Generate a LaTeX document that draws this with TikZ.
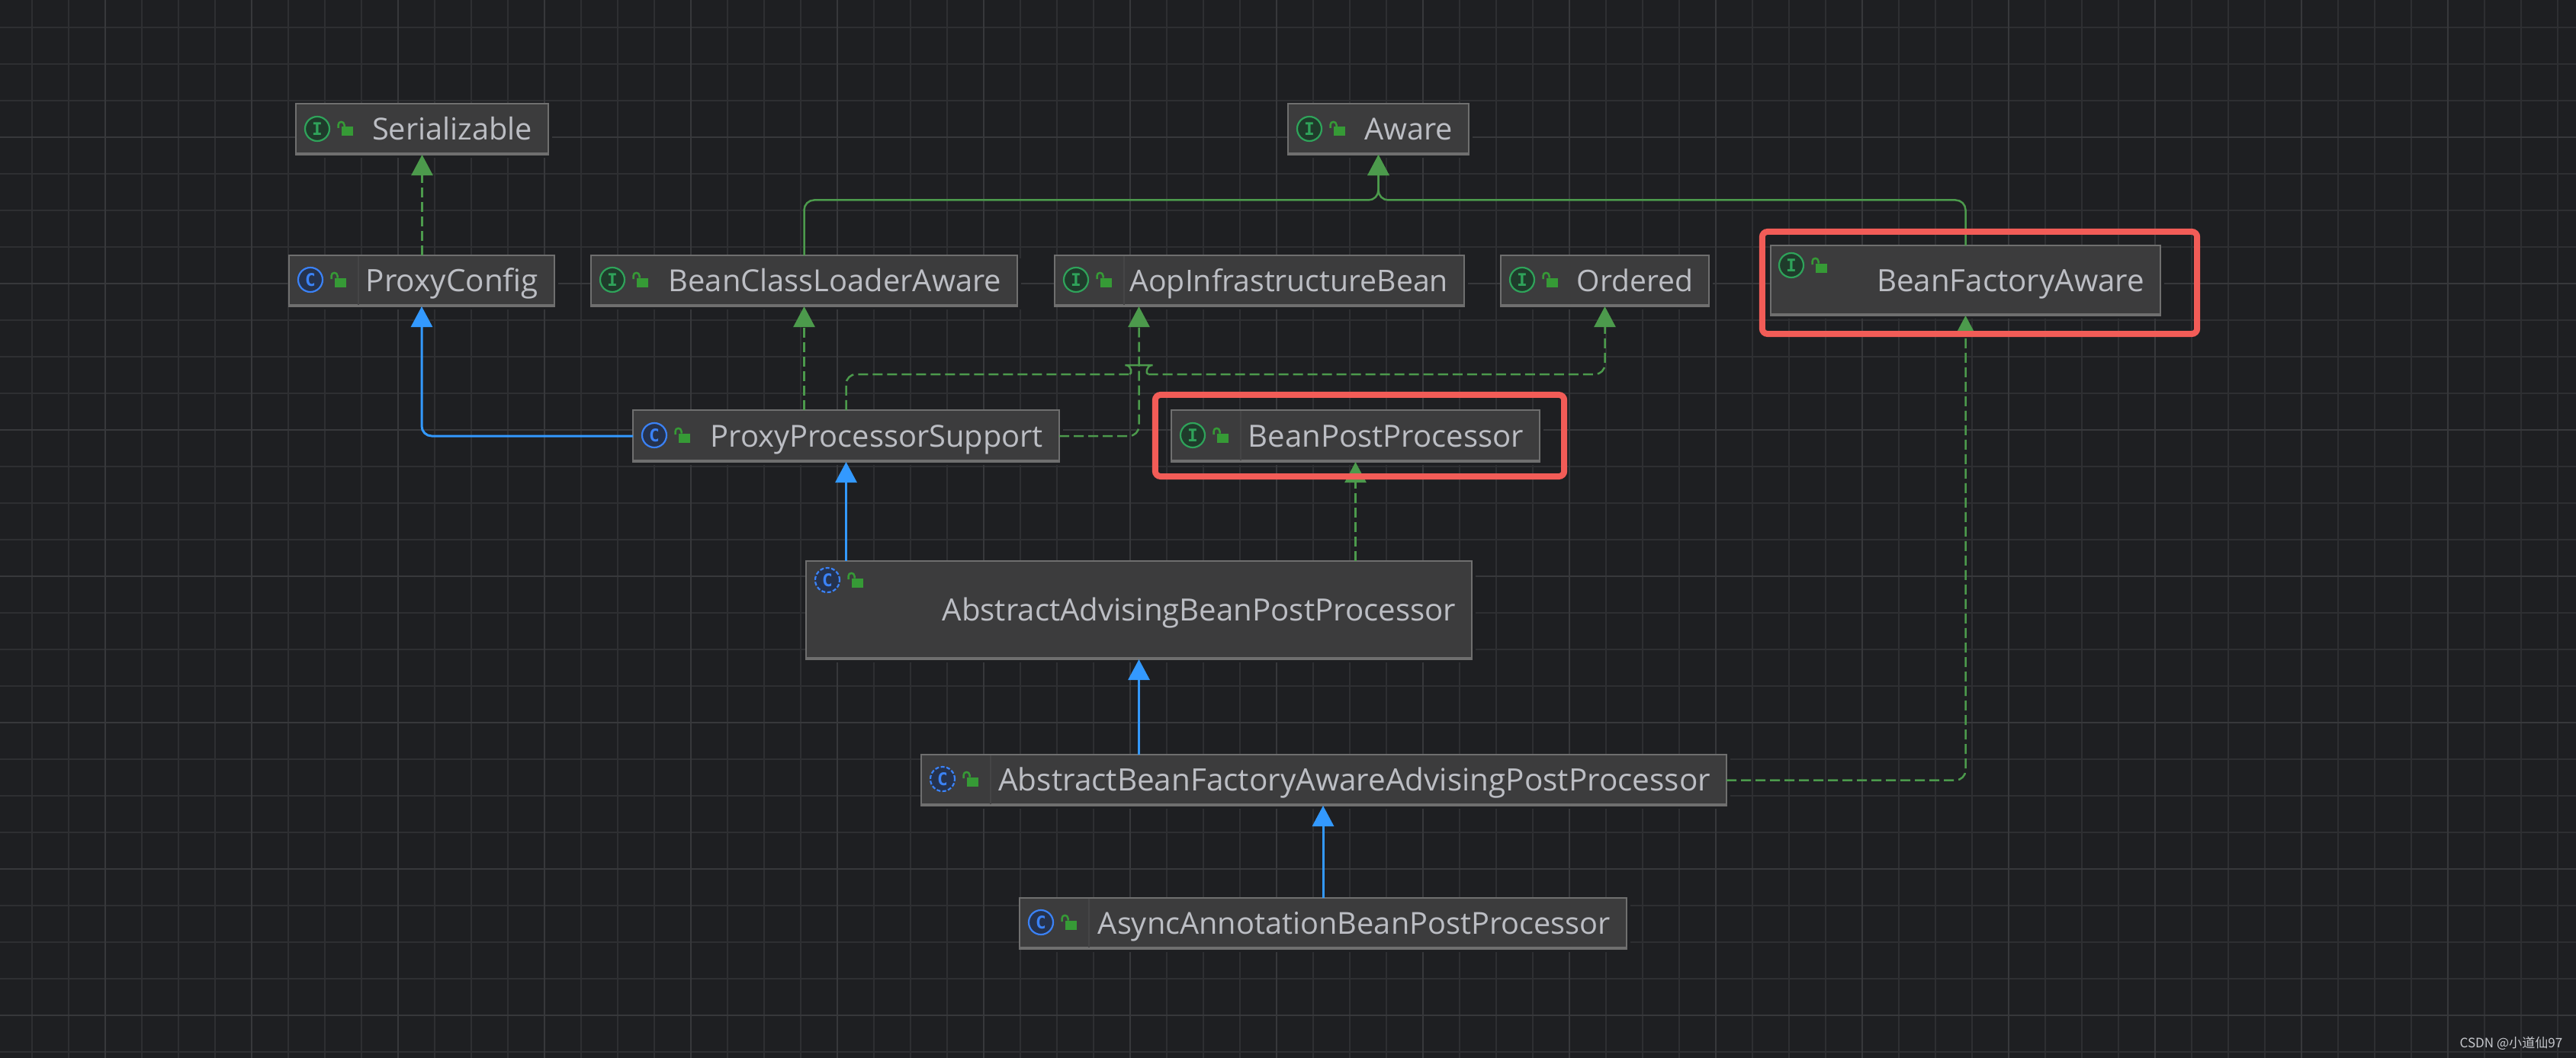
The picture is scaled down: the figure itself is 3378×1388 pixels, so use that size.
\documentclass[tikz,border=0pt]{standalone}
\usepackage{fontspec}
\setmainfont{Open Sans}
\newfontfamily\iconfont{DejaVu Sans Mono}
\newfontfamily\markfont{Noto Sans CJK SC}
\usetikzlibrary{arrows.meta, positioning, calc, shadows}
\definecolor{canvasbg}{HTML}{1E1F22}
\definecolor{gridminor}{HTML}{2E2F32}
\definecolor{gridmajor}{HTML}{37383B}
\definecolor{boxfill}{HTML}{3C3C3D}
\definecolor{boxrule}{HTML}{6F6F6F}
\definecolor{labeltext}{HTML}{BCBEC4}
\definecolor{implgreen}{HTML}{4C9A4C}
\definecolor{extblue}{HTML}{3399FF}
\definecolor{framered}{HTML}{F25C57}
\definecolor{icongreen}{HTML}{2FA35A}
\definecolor{icongreendark}{HTML}{1F3B2B}
\definecolor{iconblue}{HTML}{3B82F6}
\definecolor{iconbluedark}{HTML}{25324D}
\definecolor{lockgreen}{HTML}{369A36}
\newcommand{\lockmark}{%
  \fill[lockgreen] (31.5,-2.5) rectangle (46.5,9.5);
  \draw[lockgreen, line width=0.025cm] (27.5,-1) -- (27.5,-5) .. controls (27.5,-10.5) and (35.5,-10.5) .. (35.5,-5) -- (35.5,-2.5);
}
\tikzset{
  umlbox/.style 2 args={draw=boxrule, fill=boxfill, line width=0.025cm, outer sep=0pt,
    inner xsep=0.21cm, inner ysep=0pt, align=right,
    minimum width=#1*0.01cm, minimum height=#2*0.01cm, text width=#1*0.01cm-0.42cm,
    text height=0.28cm, text depth=0pt, text=labeltext, font=\fontsize{11.5}{13}\selectfont,
    general shadow={fill=canvasbg, draw=none, shadow xshift=0.05cm, shadow yshift=-0.04cm}},
  labelsize/.style={font=\fontsize{#1}{13}\selectfont},
  icondisc/.style={circle, inner sep=0pt, outer sep=0pt, minimum size=0.32cm, line width=0.022cm,
    font=\iconfont\bfseries\fontsize{6.5}{7}\selectfont},
  ifaceicon/.pic={
    \node[icondisc, draw=icongreen, fill=icongreendark, text=icongreen] (-disc) at (0,0) {I};
    \lockmark
  },
  classicon/.pic={
    \node[icondisc, draw=iconblue, fill=iconbluedark, text=iconblue] (-disc) at (0,0) {C};
    \lockmark
  },
  abstracticon/.pic={
    \node[icondisc, draw=iconblue, fill=iconbluedark, text=iconblue, dash pattern=on 0.05cm off 0.025cm] (-disc) at (0,0) {C};
    \lockmark
  },
  implplain/.style={draw=implgreen, line width=0.025cm, rounded corners=0.13cm},
  implsolid/.style={implplain, -{Triangle[length=0.27cm,width=0.28cm,fill=implgreen]}},
  impldash/.style={implsolid, dash pattern=on 0.13cm off 0.06cm},
  extline/.style={draw=extblue, line width=0.03cm, rounded corners=0.13cm,
    -{Triangle[length=0.27cm,width=0.28cm,fill=extblue]}},
  redframe/.style={draw=framered, line width=0.08cm, rounded corners=0.07cm, inner sep=0pt, outer sep=0pt}
}

\begin{document}
\begin{tikzpicture}[x=0.01cm, y=-0.01cm]
    \fill[canvasbg] (0,0) rectangle (3378,1388);
    \useasboundingbox (0,0) rectangle (3378,1388);
    % grid
    \foreach \gx in {42,90,...,3378} \draw[gridminor, line width=0.018cm] (\gx,0) -- (\gx,1388);
    \foreach \gy in {35.7,83.7,...,1388} \draw[gridminor, line width=0.018cm] (0,\gy) -- (3378,\gy);
    \foreach \gx in {138,330,...,3378} \draw[gridmajor, line width=0.018cm] (\gx,0) -- (\gx,1388);
    \foreach \gy in {179.7,371.7,...,1388} \draw[gridmajor, line width=0.018cm] (0,\gy) -- (3378,\gy);

    % boxes
    \node[umlbox={331}{67}, labelsize=11.3] (serial) at (553.5,169.5) {Serializable};
    \node[umlbox={237}{67}, labelsize=11.3] (aware) at (1807.5,169.5) {Aware};
    \node[umlbox={348}{67}] (pconfig) at (553,368.5) {ProxyConfig};
    \node[umlbox={559}{67}, labelsize=11.33] (bcla) at (1054.5,368.5) {BeanClassLoaderAware};
    \node[umlbox={537}{67}, labelsize=11.15] (aib) at (1651.5,368.5) {AopInfrastructureBean};
    \node[umlbox={273}{67}, labelsize=11.1] (ordered) at (2104.5,368.5) {Ordered};
    \node[umlbox={511}{92}, labelsize=11.45] (bfa) at (2577.5,368) {BeanFactoryAware};
    \node[umlbox={559}{68}, labelsize=11.33] (pps) at (1109.5,572) {ProxyProcessorSupport};
    \node[umlbox={483}{68}, labelsize=11.4] (bpp) at (1777.5,572) {BeanPostProcessor};
    \node[umlbox={873}{129}, labelsize=11.43] (aabpp) at (1493.5,800.5) {AbstractAdvisingBeanPostProcessor};
    \node[umlbox={1056}{67}] (abfa) at (1736,1023.5) {AbstractBeanFactoryAwareAdvisingPostProcessor};
    \node[umlbox={796}{67}, labelsize=11.3] (async) at (1735,1211.5) {AsyncAnnotationBeanPostProcessor};

    % heavier lower edge, and the seam beside the icons
    \foreach \n in {serial,aware,pconfig,bcla,aib,ordered,bfa,pps,bpp,aabpp,abfa,async}
      \draw[boxrule, line width=0.04cm] ($(\n.south west)+(0,-1)$) -- ($(\n.south east)+(0,-1)$);
    \foreach \n in {pconfig,aib,bpp,abfa,async}
      \draw[boxrule!18!boxfill, line width=0.012cm] ($(\n.north west)+(91,1)$) -- ($(\n.south west)+(91,-2)$);

    % icons
    \pic (serialicon) at ($(serial.north west)+(28,33)$) {ifaceicon};
    \pic (awareicon) at ($(aware.north west)+(28,33)$) {ifaceicon};
    \pic (pconfigicon) at ($(pconfig.north west)+(28,32)$) {classicon};
    \pic (bclaicon) at ($(bcla.north west)+(28,32)$) {ifaceicon};
    \pic (aibicon) at ($(aib.north west)+(28,32)$) {ifaceicon};
    \pic (orderedicon) at ($(ordered.north west)+(28,32)$) {ifaceicon};
    \pic (bfaicon) at ($(bfa.north west)+(27,26)$) {ifaceicon};
    \pic (ppsicon) at ($(pps.north west)+(28,33)$) {classicon};
    \pic (bppicon) at ($(bpp.north west)+(28,33)$) {ifaceicon};
    \pic (aabppicon) at ($(aabpp.north west)+(28,25)$) {abstracticon};
    \pic (abfaicon) at ($(abfa.north west)+(28,32)$) {abstracticon};
    \pic (asyncicon) at ($(async.north west)+(28,32)$) {classicon};

    % connectors
    \coordinate (awarejoin) at (1807.5,262.5);
    \coordinate (ppsturn) at (1109.5,491);
    \coordinate (aibhop) at (1493.5,491);
    \coordinate (aibin) at (aib.south -| aabpp.north);
    \draw[impldash] (pconfig.north -| serial.south) -- (serial.south);
    \draw[implsolid] (bcla.north) |- (awarejoin) -- (aware.south);
    \draw[implsolid] (bfa.north) |- (awarejoin) -- (aware.south);
    \draw[extline] (pps.west) -| (pconfig.south);
    \draw[impldash] (pps.north -| bcla.south) -- (bcla.south);
    \draw[impldash] (pps.east) -| (aibin);
    \draw[impldash, -] (pps.north) -- (ppsturn) -- ($(aibhop)+(-12,0)$);
    \draw[implplain] ($(aibhop)+(-12,0)$)
      .. controls ($(aibhop)+(-9,0)$) and ($(aibhop)+(-9,-12)$) .. ($(aibhop)+(-5,-12)$)
      -- ($(aibhop)+(5,-12)$)
      .. controls ($(aibhop)+(9,-12)$) and ($(aibhop)+(9,0)$) .. ($(aibhop)+(12,0)$);
    \draw[impldash] ($(aibhop)+(12,0)$) -| (ordered.south);
    \draw[extline] (aabpp.north -| pps.south) -- (pps.south);
    \draw[impldash] (aabpp.north -| bpp.south) -- (bpp.south);
    \draw[extline] (abfa.north -| aabpp.south) -- (aabpp.south);
    \draw[extline] (async.north) -- (abfa.south -| async.north);
    \draw[impldash] (abfa.east) -| (bfa.south);

    % highlight frames
    \node[redframe, minimum width=5.70cm, minimum height=1.34cm] (bfaframe) at (2596,371) {};
    \node[redframe, minimum width=5.36cm, minimum height=1.07cm] (bppframe) at (1783,571.5) {};

    \node[anchor=east, inner sep=0pt, text=labeltext!85!white, font=\markfont\fontsize{4.85}{6}\selectfont] (credit) at (3361,1369) {CSDN @小道仙97};
\end{tikzpicture}
\end{document}
